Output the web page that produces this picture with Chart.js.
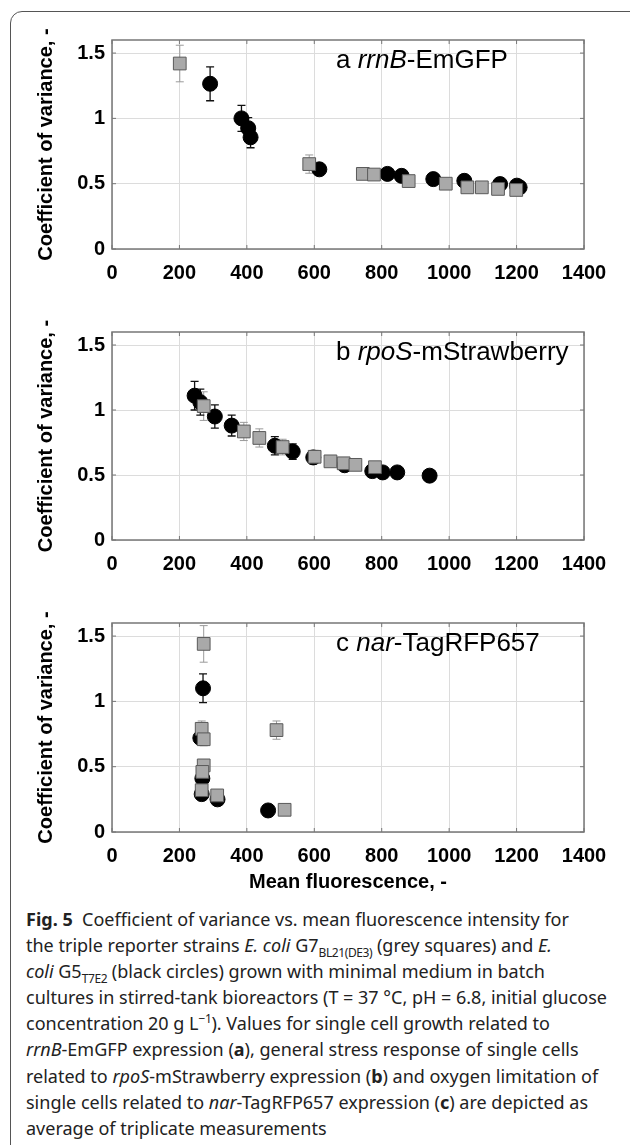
<!DOCTYPE html>
<html>
<head>
<meta charset="utf-8">
<script src="https://cdn.jsdelivr.net/npm/chart.js@4.4.1/dist/chart.umd.min.js"></script>
<style>
body{margin:0;background:#fff;}
#page{position:relative;width:630px;height:1145px;overflow:hidden;background:#fff;}
#frame{position:absolute;left:10px;top:11px;width:660px;height:1200px;border:1.4px solid #555;border-radius:12px;}
canvas{position:absolute;left:0;}
#caption{position:absolute;left:26px;top:906px;font-family:"Noto Sans";font-size:18px;line-height:26.1px;color:#222;letter-spacing:0px;white-space:nowrap;}
#caption sub,#caption sup{font-size:12px;line-height:0;letter-spacing:-0.4px;}
</style>
</head>
<body>
<div id="page">
  <div id="frame"></div>
  <canvas id="chartA" width="630" height="289" style="top:0px"></canvas>
  <canvas id="chartB" width="630" height="290" style="top:290px"></canvas>
  <canvas id="chartC" width="630" height="316" style="top:580px"></canvas>
  <div id="caption">
<b>Fig. 5</b>&nbsp; Coefficient of variance vs. mean fluorescence intensity for<br>
the triple reporter strains <i>E. coli</i> G7<sub>BL21(DE3)</sub> (grey squares) and <i>E.</i><br>
<i>coli</i> G5<sub>T7E2</sub> (black circles) grown with minimal medium in batch<br>
cultures in stirred-tank bioreactors (T = 37 °C, pH = 6.8, initial glucose<br>
concentration 20 g L<sup>−1</sup>). Values for single cell growth related to<br>
<i>rrnB</i>-EmGFP expression (<b>a</b>), general stress response of single cells<br>
related to <i>rpoS</i>-mStrawberry expression (<b>b</b>) and oxygen limitation of<br>
single cells related to <i>nar</i>-TagRFP657 expression (<b>c</b>) are depicted as<br>
average of triplicate measurements
  </div>
</div>

<script>
// axis ticks
const xTicks = [0, 200, 400, 600, 800, 1000, 1200, 1400];
const yTicks = [0, 0.5, 1, 1.5];

// panel a - rrnB-EmGFP
const sqA_x = [201, 585, 744, 777, 880, 990, 1054, 1097, 1145, 1199];
const sqA_y = [1.42, 0.65, 0.575, 0.57, 0.52, 0.50, 0.472, 0.472, 0.46, 0.452];
const sqA_e = [0.14, 0.07, 0.03, 0.03, 0.03, 0.02, 0.02, 0.02, 0.02, 0.02];
const ciA_x = [291, 384, 404, 411, 615, 817, 859, 953, 1045, 1151, 1201, 1209];
const ciA_y = [1.265, 1.0, 0.925, 0.855, 0.61, 0.575, 0.56, 0.535, 0.522, 0.497, 0.485, 0.472];
const ciA_e = [0.13, 0.10, 0.08, 0.08, 0.04, 0.04, 0.04, 0.03, 0.03, 0.03, 0.03, 0.03];

// panel b - rpoS-mStrawberry
const sqB_x = [272, 391, 437, 506, 601, 648, 687, 722, 780];
const sqB_y = [1.03, 0.835, 0.785, 0.715, 0.64, 0.605, 0.59, 0.578, 0.56];
const sqB_e = [0.11, 0.07, 0.07, 0.06, 0.05, 0.04, 0.04, 0.04, 0.04];
const ciB_x = [245, 262, 305, 355, 483, 536, 597, 690, 772, 803, 846, 942];
const ciB_y = [1.11, 1.06, 0.95, 0.88, 0.725, 0.68, 0.635, 0.575, 0.53, 0.52, 0.52, 0.495];
const ciB_e = [0.11, 0.10, 0.09, 0.08, 0.07, 0.06, 0.05, 0.04, 0.03, 0.03, 0.03, 0.02];

// panel c - nar-TagRFP657
const sqC_x = [272, 266, 272, 272, 268, 266, 312, 488, 512];
const sqC_y = [1.44, 0.79, 0.71, 0.51, 0.46, 0.32, 0.28, 0.78, 0.17];
const sqC_e = [0.14, 0.06, 0.05, 0.04, 0.04, 0.03, 0.03, 0.07, 0.02];
const ciC_x = [270, 262, 268, 266, 313, 463];
const ciC_y = [1.10, 0.72, 0.41, 0.29, 0.25, 0.165];
const ciC_e = [0.11, 0.04, 0.03, 0.03, 0.02, 0.02];

const yTitle = "Coefficient of variance, -";
const xTitle = "Mean fluorescence, -";
const FONT = "Liberation Sans, Arial, sans-serif";

function toPts(xs, ys) {
  return xs.map((x, i) => ({ x: x, y: ys[i] }));
}

// vertical error bars, drawn under the markers
const errorBars = {
  id: "errorBars",
  beforeDatasetsDraw(chart) {
    const ctx = chart.ctx;
    const xs = chart.scales.x, ys = chart.scales.y;
    ctx.save();
    chart.data.datasets.forEach(ds => {
      ctx.strokeStyle = ds.barColor;
      ctx.lineWidth = ds.barWidth;
      ds.data.forEach((p, i) => {
        const e = ds.errs[i];
        const px = xs.getPixelForValue(p.x);
        const y1 = ys.getPixelForValue(p.y + e);
        const y2 = ys.getPixelForValue(p.y - e);
        ctx.beginPath();
        ctx.moveTo(px, y1); ctx.lineTo(px, y2);
        ctx.moveTo(px - 4, y1); ctx.lineTo(px + 4, y1);
        ctx.moveTo(px - 4, y2); ctx.lineTo(px + 4, y2);
        ctx.stroke();
      });
    });
    ctx.restore();
  }
};

// box around the plot with inward ticks, y title and panel label
const panelText = {
  id: "panelText",
  afterDraw(chart, args, opts) {
    const ctx = chart.ctx;
    const a = chart.chartArea;
    const xs = chart.scales.x, ys = chart.scales.y;
    ctx.save();
    ctx.strokeStyle = "#777";
    ctx.lineWidth = 1.5;
    ctx.strokeRect(a.left, a.top, a.right - a.left, a.bottom - a.top);
    ctx.lineWidth = 1;
    ctx.beginPath();
    xTicks.forEach(v => {
      const px = xs.getPixelForValue(v);
      ctx.moveTo(px, a.bottom); ctx.lineTo(px, a.bottom - 4);
      ctx.moveTo(px, a.top); ctx.lineTo(px, a.top + 4);
    });
    yTicks.forEach(v => {
      const py = ys.getPixelForValue(v);
      ctx.moveTo(a.left, py); ctx.lineTo(a.left + 4, py);
      ctx.moveTo(a.right, py); ctx.lineTo(a.right - 4, py);
    });
    ctx.stroke();

    // y title
    ctx.fillStyle = "#000";
    ctx.font = "bold 20px " + FONT;
    ctx.textAlign = "center";
    ctx.textBaseline = "middle";
    ctx.translate(46, (a.top + a.bottom) / 2);
    ctx.rotate(-Math.PI / 2);
    ctx.fillText(yTitle, 0, 0);
    ctx.setTransform(1, 0, 0, 1, 0, 0);

    // panel label, italic gene name
    let x = 336;
    const y = a.top + 21;
    ctx.textAlign = "left";
    opts.parts.forEach(p => {
      ctx.font = (p[1] ? "italic " : "") + "26px " + FONT;
      ctx.fillText(p[0], x, y);
      x += ctx.measureText(p[0]).width;
    });
    ctx.restore();
  }
};

function makePanel(id, sx, sy, se, cx, cy, ce, parts, padTop, xHeight, showXTitle) {
  return new Chart(document.getElementById(id), {
    type: "scatter",
    data: {
      datasets: [
        {
          label: "E. coli G7 BL21(DE3)",
          data: toPts(sx, sy), errs: se,
          pointStyle: "rect", pointRadius: 9,
          backgroundColor: "#a9a9a9", borderColor: "#5a5a5a", borderWidth: 1,
          barColor: "#9a9a9a", barWidth: 1
        },
        {
          label: "E. coli G5 T7E2",
          data: toPts(cx, cy), errs: ce,
          pointStyle: "circle", pointRadius: 7.5,
          backgroundColor: "#000", borderColor: "#000", borderWidth: 1,
          barColor: "#111", barWidth: 1.3
        }
      ]
    },
    options: {
      responsive: false,
      animation: false,
      events: [],
      layout: { padding: { top: padTop, right: 46, left: 0, bottom: 0 } },
      plugins: {
        legend: { display: false },
        tooltip: { enabled: false },
        panelText: { parts: parts }
      },
      scales: {
        x: {
          type: "linear", min: 0, max: 1400,
          afterBuildTicks(s) { s.ticks = xTicks.map(v => ({ value: v })); },
          afterFit(s) { s.height = xHeight; s.paddingLeft = 0; s.paddingRight = 0; },
          ticks: { padding: 12, color: "#000", font: { family: FONT, size: 20, weight: "bold" }, callback: v => String(v), maxRotation: 0, autoSkip: false },
          grid: { color: "#dcdcdc", drawTicks: false },
          border: { display: false },
          title: {
            display: showXTitle, text: xTitle, color: "#000",
            font: { family: FONT, size: 20, weight: "bold" },
            padding: { top: 0, bottom: 2 }
          }
        },
        y: {
          type: "linear", min: 0, max: 1.6,
          afterBuildTicks(s) { s.ticks = yTicks.map(v => ({ value: v })); },
          afterFit(s) { s.width = 112; },
          ticks: { padding: 7, color: "#000", font: { family: FONT, size: 20, weight: "bold" }, callback: v => String(v) },
          grid: { color: "#dcdcdc", drawTicks: false },
          border: { display: false }
        }
      }
    },
    plugins: [errorBars, panelText]
  });
}

makePanel("chartA", sqA_x, sqA_y, sqA_e, ciA_x, ciA_y, ciA_e,
  [["a ", false], ["rrnB", true], ["-EmGFP", false]], 40, 40, false);
makePanel("chartB", sqB_x, sqB_y, sqB_e, ciB_x, ciB_y, ciB_e,
  [["b ", false], ["rpoS", true], ["-mStrawberry", false]], 42, 40, false);
makePanel("chartC", sqC_x, sqC_y, sqC_e, ciC_x, ciC_y, ciC_e,
  [["c ", false], ["nar", true], ["-TagRFP657", false]], 43, 64, true);
</script>
</body>
</html>
